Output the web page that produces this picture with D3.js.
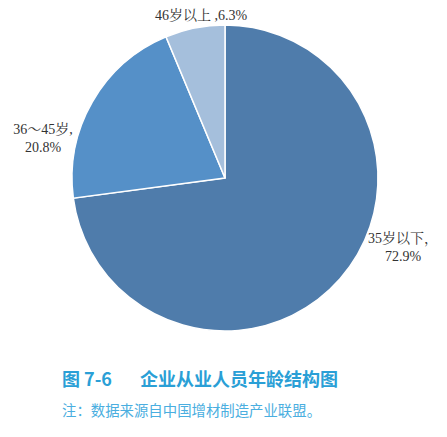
<!DOCTYPE html>
<html>
<head>
<meta charset="utf-8">
<script src="https://cdn.jsdelivr.net/npm/d3@7"></script>
<style>
	body { margin: 0; background: #fff; }
	svg { display: block; }
</style>
</head>
<body>
<script>
// data
var categories = ["35岁以下", "36～45岁", "46岁以上"];
var shares = [72.9, 20.8, 6.3];
var colors = ["#4f7cab", "#5590c8", "#a5bfdc"];

var width = 447, height = 437;
var cx = 225, cy = 178, radius = 153;

var svg = d3.select("body").append("svg")
	.attr("width", width)
	.attr("height", height);

var pie = d3.pie().sort(null).value(function(d) { return d; });
var arc = d3.arc().innerRadius(0).outerRadius(radius);

var g = svg.append("g").attr("transform", "translate(" + cx + "," + cy + ")");

g.selectAll("path")
	.data(pie(shares))
	.enter().append("path")
	.attr("d", arc)
	.attr("fill", function(d, i) { return colors[i]; })
	.attr("stroke", "#fff")
	.attr("stroke-width", 1.5);

// labels, placed outside each slice
var labelFont = "'Liberation Serif', 'Noto Serif CJK SC', 'Noto Sans CJK SC', serif";
var labelPos = [
	{ x: 403, y: 243, lines: [categories[0] + "，", shares[0].toFixed(1) + "%"] },
	{ x: 43, y: 134, lines: [categories[1] + ",", shares[1].toFixed(1) + "%"] },
	{ x: 201, y: 20, lines: [categories[2] + " ," + shares[2].toFixed(1) + "%"] }
];

labelPos.forEach(function(l) {
	var t = svg.append("text")
		.attr("x", l.x)
		.attr("y", l.y)
		.attr("text-anchor", "middle")
		.style("font-family", labelFont)
		.style("font-size", "14px")
		.style("fill", "#333");
	l.lines.forEach(function(s, i) {
		t.append("tspan")
			.attr("x", l.x)
			.attr("dy", i === 0 ? 0 : 18)
			.text(s);
	});
});

// caption
var cap = svg.append("text")
	.attr("x", 62)
	.attr("y", 386)
	.style("font-family", "'Noto Sans CJK SC', sans-serif")
	.style("font-size", "18px")
	.style("font-weight", "bold")
	.style("fill", "#2a9fd6");
cap.append("tspan").text("图 7-6");
cap.append("tspan").attr("x", 140).text("企业从业人员年龄结构图");

svg.append("text")
	.attr("x", 62)
	.attr("y", 416)
	.style("font-family", "'Noto Sans CJK SC', sans-serif")
	.style("font-size", "14.4px")
	.style("fill", "#4aaee0")
	.text("注：数据来源自中国增材制造产业联盟。");
</script>
</body>
</html>
